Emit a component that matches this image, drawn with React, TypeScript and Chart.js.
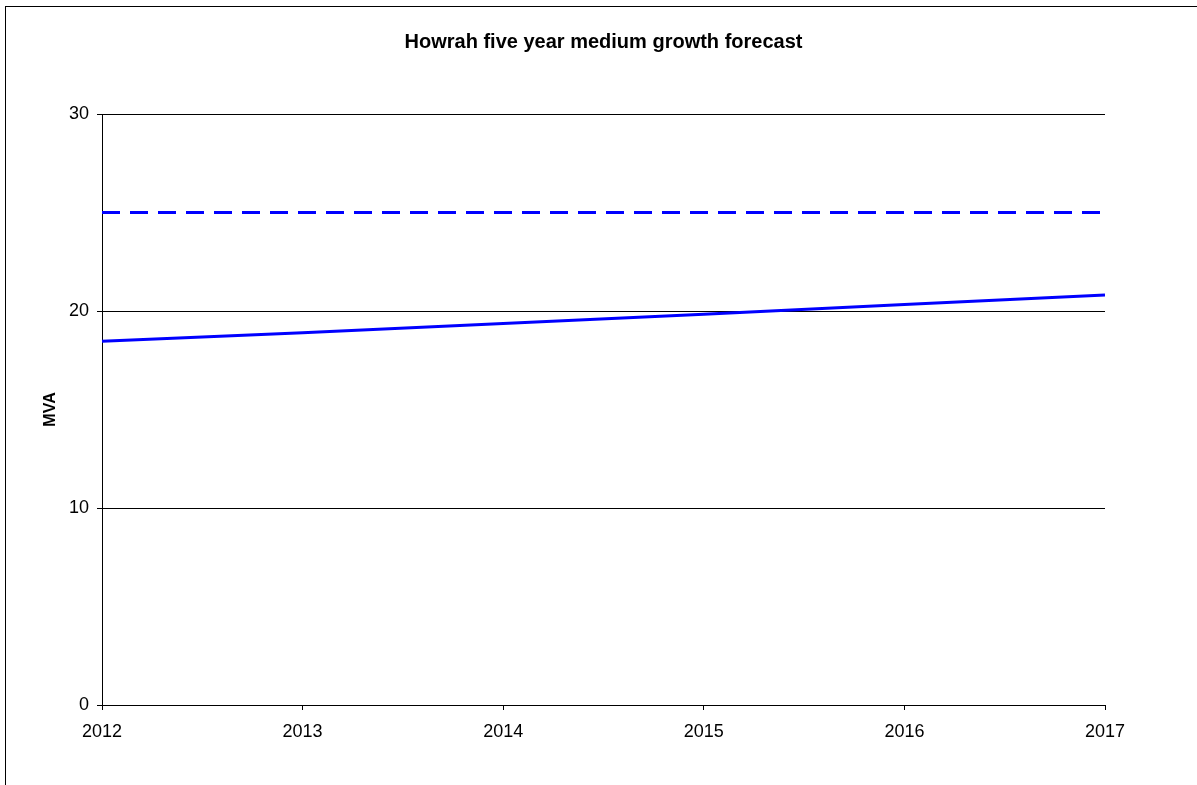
import React, { useEffect, useRef } from "react";
import { Chart, registerables } from "chart.js";

Chart.register(...registerables);

const TITLE = "Howrah five year medium growth forecast";
const Y_TITLE = "MVA";
const years = ["2012", "2013", "2014", "2015", "2016", "2017"];
const forecast = [18.46, 18.9, 19.37, 19.84, 20.33, 20.81];
const firmCapacity = [25, 25, 25, 25, 25, 25];
const yTicks = [0, 10, 20, 30];

const FONT = "Arial, 'Liberation Sans', sans-serif";

const centeredTitle = {
  id: "centeredTitle",
  afterDraw(chart: any) {
    const { ctx, chartArea } = chart;
    ctx.save();
    ctx.fillStyle = "#000";
    ctx.font = `bold 20px ${FONT}`;
    ctx.textAlign = "center";
    ctx.textBaseline = "middle";
    ctx.fillText(TITLE, (chartArea.left + chartArea.right) / 2, 42);
    ctx.restore();
  },
};

export default function App() {
  const ref = useRef<HTMLCanvasElement | null>(null);

  useEffect(() => {
    if (!ref.current) return;
    const chart = new Chart(ref.current, {
      type: "line",
      data: {
        labels: years,
        datasets: [
          {
            label: "Forecast",
            data: forecast,
            borderColor: "#0000FF",
            backgroundColor: "#0000FF",
            borderWidth: 3,
            pointRadius: 0,
            tension: 0,
          },
          {
            label: "Capacity",
            data: firmCapacity,
            borderColor: "#0000FF",
            backgroundColor: "#0000FF",
            borderWidth: 3,
            borderDash: [18, 10],
            pointRadius: 0,
            tension: 0,
          },
        ],
      },
      options: {
        animation: false,
        responsive: false,
        maintainAspectRatio: false,
        layout: { padding: { left: 0, right: 92, top: 114, bottom: 0 } },
        plugins: {
          legend: { display: false },
          tooltip: { enabled: false },
          title: { display: false },
        },
        scales: {
          x: {
            offset: false,
            grid: {
              display: true,
              drawOnChartArea: false,
              drawTicks: true,
              tickLength: 5,
              color: "#000",
            },
            border: { display: true, color: "#000", width: 1 },
            ticks: {
              color: "#000",
              padding: 11,
              maxRotation: 0,
              autoSkip: false,
              font: { family: FONT, size: 18 },
            },
            afterFit: (scale: any) => {
              scale.height = 80;
            },
          },
          y: {
            min: 0,
            max: 30,
            afterBuildTicks: (scale: any) => {
              scale.ticks = yTicks.map((v) => ({ value: v }));
            },
            grid: {
              display: true,
              drawOnChartArea: true,
              drawTicks: true,
              tickLength: 5,
              color: "#000",
            },
            border: { display: true, color: "#000", width: 1 },
            title: {
              display: true,
              text: Y_TITLE,
              color: "#000",
              font: { family: FONT, size: 16, weight: "bold" },
              padding: { top: 41, bottom: 0 },
            },
            ticks: {
              color: "#000",
              padding: 8,
              font: { family: FONT, size: 18 },
            },
            afterFit: (scale: any) => {
              scale.width = 102;
            },
          },
        },
      },
      plugins: [centeredTitle],
    });
    return () => chart.destroy();
  }, []);

  return (
    <div style={{ position: "fixed", left: 0, top: 0, width: 1197, height: 785, background: "#fff", overflow: "hidden" }}>
      <div
        style={{
          position: "absolute",
          left: 5,
          top: 6,
          width: 1250,
          height: 840,
          border: "1px solid #000",
          boxSizing: "border-box",
          pointerEvents: "none",
        }}
      />
      <canvas ref={ref} width={1197} height={785} style={{ position: "absolute", left: 0, top: 0, display: "block" }} />
    </div>
  );
}
